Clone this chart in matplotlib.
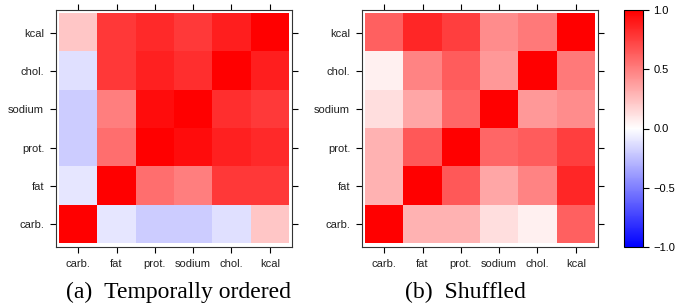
import numpy as np
import matplotlib
matplotlib.use("Agg")
import matplotlib.pyplot as plt
from matplotlib.colors import LinearSegmentedColormap

# variable names, same order on both axes (bottom-to-top / left-to-right)
labels = ["carb.", "fat", "prot.", "sodium", "chol.", "kcal"]

# (a) temporally ordered correlations
corr_ordered = np.array([
    [1.00, -0.10, -0.20, -0.20, -0.12, 0.22],
    [-0.10, 1.00, 0.57, 0.50, 0.78, 0.78],
    [-0.20, 0.57, 1.00, 0.95, 0.87, 0.83],
    [-0.20, 0.50, 0.95, 1.00, 0.82, 0.77],
    [-0.12, 0.78, 0.87, 0.82, 1.00, 0.88],
    [0.22, 0.78, 0.83, 0.77, 0.88, 1.00],
])

# (b) shuffled correlations
corr_shuffled = np.array([
    [1.00, 0.30, 0.30, 0.13, 0.06, 0.62],
    [0.30, 1.00, 0.65, 0.35, 0.48, 0.85],
    [0.30, 0.65, 1.00, 0.60, 0.64, 0.75],
    [0.13, 0.35, 0.60, 1.00, 0.40, 0.45],
    [0.06, 0.48, 0.64, 0.40, 1.00, 0.52],
    [0.62, 0.85, 0.75, 0.45, 0.52, 1.00],
])

captions = ["(a)\u2002Temporally ordered", "(b)\u2002Shuffled"]
cbar_ticks = [-1.0, -0.5, 0.0, 0.5, 1.0]

cmap = LinearSegmentedColormap.from_list("bwr_lin", ["#0000ff", "#ffffff", "#ff0000"])
sans = "Liberation Sans"
serif = "Liberation Serif"

fig = plt.figure(figsize=(6.75, 3.07), dpi=100)

panels = [
    (corr_ordered, [56/675, 60/307, 236/675, 237/307], 178/675),
    (corr_shuffled, [362/675, 60/307, 236/675, 237/307], 465/675),
]

for (mat, pos, cx), cap in zip(panels, captions):
    ax = fig.add_axes(pos)
    im = ax.imshow(mat, cmap=cmap, vmin=-1, vmax=1, origin="lower",
                   aspect="auto", interpolation="nearest")
    ax.set_xlim(-0.58, 5.58)
    ax.set_ylim(-0.6, 5.6)
    ax.set_xticks(range(len(labels)))
    ax.set_yticks(range(len(labels)))
    ax.set_xticklabels(labels, fontfamily=sans, fontsize=8, color="#222222")
    ax.set_yticklabels(labels, fontfamily=sans, fontsize=8, color="#222222")
    ax.tick_params(top=True, right=True, direction="out", length=4.5,
                   width=0.8, pad=4)
    for s in ax.spines.values():
        s.set_linewidth(0.8)
        s.set_color("#333333")
    fig.text(cx, 15/307, cap, ha="center", va="center",
             fontfamily=serif, fontsize=17)

cax = fig.add_axes([624/675, 60/307, 19/675, 237/307])
cb = fig.colorbar(im, cax=cax, ticks=cbar_ticks)
cb.ax.set_yticklabels(["\u22121.0", "\u22120.5", "0.0", "0.5", "1.0"],
                      fontfamily=sans, fontsize=8)
cb.ax.tick_params(direction="out", length=4.5, width=0.8, pad=3)
cb.outline.set_linewidth(0.8)

fig.savefig("out.png", dpi=100)
